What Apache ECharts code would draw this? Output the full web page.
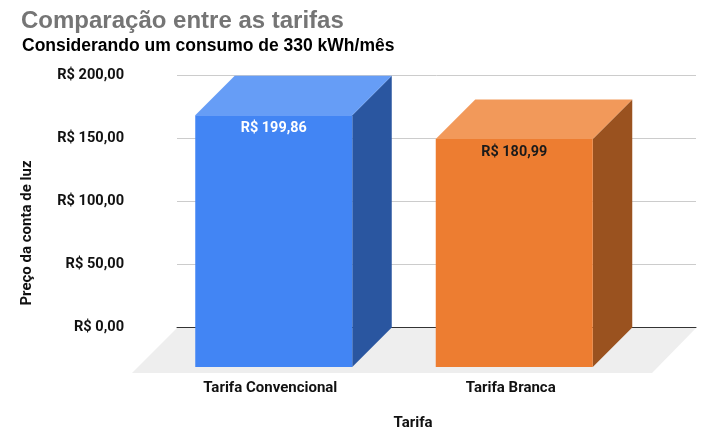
<!DOCTYPE html>
<html>
<head>
<meta charset="utf-8">
<title>Comparação entre as tarifas</title>
<script src="https://cdn.jsdelivr.net/npm/echarts@6/dist/echarts.min.js"></script>
<style>
html,body{margin:0;padding:0;background:#fff;}
#main{width:704px;height:436px;}
</style>
</head>
<body>
<div id="main"></div>
<script>
var categorias = ['Tarifa Convencional', 'Tarifa Branca'];
var valores = [199.86, 180.99];
var ticksEixo = [0, 50, 100, 150, 200];

// cores de cada barra: frente, topo, lateral, rotulo
var corFrente = ['#4285f4', '#ed7d31'];
var corTopo = ['#669df6', '#f2995a'];
var corLado = ['#2a56a0', '#9a521f'];
var corRotulo = ['#ffffff', '#1a1a1a'];

function moeda(v) {
    return 'R$ ' + v.toFixed(2).replace('.', ',');
}

var fonteEixo = 'Roboto, Arial, sans-serif';
var fonteTitulo = '"Liberation Sans", Arial, sans-serif';
var prof = 39.5; // profundidade do efeito 3d

// piso cinza embaixo do grafico
function desenhaPiso(params, api) {
    var sis = params.coordSys;
    var base = api.coord([0, 0])[1] + 0.5;
    return {
        type: 'polygon',
        shape: {points: [
            [sis.x, base],
            [sis.x + sis.width, base],
            [sis.x + sis.width - 44, base + 45],
            [sis.x - 45, base + 45]
        ]},
        style: {fill: '#eeeeee'}
    };
}

// barra em 3d: parede de tras fica no eixo, frente deslocada
function desenhaBarra(params, api) {
    var i = params.dataIndex;
    var v = api.value(1);
    var topo = api.coord([i, v]);
    var zero = api.coord([i, 0]);
    var esq = topo[0] - 75, dir = topo[0] + 82;
    var yTopo = topo[1] + prof, yBase = zero[1] + prof;
    return {
        type: 'group',
        children: [
            {type: 'polygon', shape: {points: [
                [dir, yTopo], [dir + prof, yTopo - prof], [dir + prof, yBase - prof], [dir, yBase]
            ]}, style: {fill: corLado[i]}},
            {type: 'polygon', shape: {points: [
                [esq, yTopo], [esq + prof, yTopo - prof], [dir + prof, yTopo - prof], [dir, yTopo]
            ]}, style: {fill: corTopo[i]}},
            {type: 'rect', shape: {x: esq, y: yTopo, width: dir - esq, height: yBase - yTopo},
                style: {fill: corFrente[i]}},
            {type: 'text', style: {
                x: (esq + dir) / 2, y: yTopo + 13.5,
                text: moeda(v), align: 'center', verticalAlign: 'middle',
                fill: corRotulo[i], font: 'bold 14.4px ' + fonteEixo
            }}
        ]
    };
}

var myChart = echarts.init(document.getElementById('main'));
myChart.setOption({
    animation: false,
    backgroundColor: '#ffffff',
    title: [
        {text: 'Comparação entre as tarifas', left: 16, top: 4,
            textStyle: {color: '#757575', fontSize: 24, fontWeight: 'bold', fontFamily: fonteTitulo}},
        {text: 'Considerando um consumo de 330 kWh/mês', left: 17, top: 32.5,
            textStyle: {color: '#000000', fontSize: 17.5, fontWeight: 'bold', fontFamily: fonteTitulo}}
    ],
    grid: [
        {left: 177, top: 75.5, width: 519, height: 252},
        {left: 150, top: 75.5, width: 481, height: 252}
    ],
    xAxis: [
        {type: 'category', gridIndex: 0, data: categorias,
            axisLine: {show: true, lineStyle: {color: '#333333', width: 1}},
            axisTick: {show: false}, axisLabel: {show: false}, splitLine: {show: false}},
        {type: 'category', gridIndex: 1, data: categorias,
            axisLine: {show: false}, axisTick: {show: false},
            axisLabel: {margin: 53.5, color: '#111111', fontSize: 15, fontWeight: 'bold', fontFamily: fonteEixo}}
    ],
    yAxis: [
        {type: 'value', gridIndex: 0, min: ticksEixo[0], max: ticksEixo[4], interval: 50,
            axisLine: {show: false}, axisTick: {show: false},
            axisLabel: {margin: 53, padding: [3, 0, 0, 0], color: '#111111', fontSize: 14.6, fontWeight: 'bold', fontFamily: fonteEixo, formatter: moeda},
            splitLine: {show: true, lineStyle: {color: '#cccccc', width: 1}}},
        {type: 'value', gridIndex: 1, min: ticksEixo[0], max: ticksEixo[4], interval: 50, show: false, splitLine: {show: false}}
    ],
    graphic: [
        {type: 'text', x: 27, y: 233, rotation: Math.PI / 2,
            style: {text: 'Preço da conta de luz', align: 'center', verticalAlign: 'middle',
                fill: '#111111', font: 'bold 15px ' + fonteEixo}},
        {type: 'text', x: 413, y: 423,
            style: {text: 'Tarifa', align: 'center', verticalAlign: 'middle',
                fill: '#111111', font: 'bold 15px ' + fonteEixo}}
    ],
    series: [
        {type: 'custom', xAxisIndex: 0, yAxisIndex: 0, z: 1, silent: true,
            renderItem: desenhaPiso, data: [[0, 0]]},
        {type: 'custom', xAxisIndex: 1, yAxisIndex: 1, z: 5, silent: true,
            renderItem: desenhaBarra,
            data: valores.map(function (v, i) { return [i, v]; })}
    ]
});
</script>
</body>
</html>
